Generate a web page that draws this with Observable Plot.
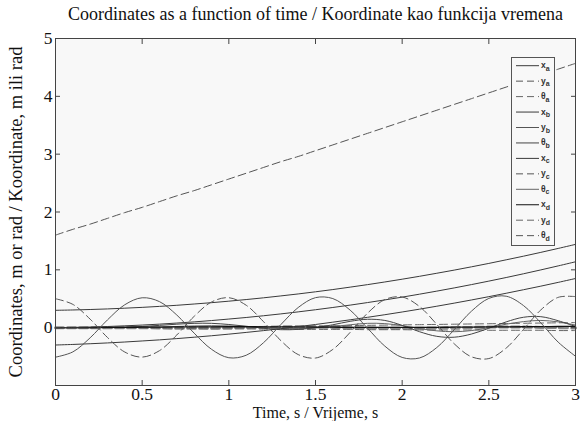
<!DOCTYPE html>
<html><head><meta charset="utf-8">
<script src="https://cdn.jsdelivr.net/npm/d3@7"></script>
<script src="https://cdn.jsdelivr.net/npm/@observablehq/plot@0.6"></script>
<style>
body{margin:0;background:#fff;}
#wrap{position:relative;width:580px;height:421px;overflow:hidden;}
#wrap svg{display:block;}
#legend{position:absolute;left:0;top:0;}
</style></head><body><div id="wrap"></div>
<script>
// ---- data ----
const time = [0,0.1,0.2,0.3,0.4,0.5,0.6,0.7,0.8,0.9,1.0,1.1,1.2,1.3,1.4,1.5,1.6,1.7,1.8,1.9,2.0,2.1,2.2,2.3,2.4,2.5,2.6,2.7,2.8,2.9,3.0];
const xa = [0.300,0.306,0.314,0.324,0.337,0.351,0.368,0.387,0.409,0.432,0.458,0.486,0.516,0.549,0.583,0.620,0.659,0.701,0.744,0.790,0.838,0.888,0.941,0.995,1.052,1.111,1.173,1.236,1.302,1.370,1.440];
const ya = [1.60,1.70,1.79,1.89,1.99,2.08,2.18,2.28,2.37,2.47,2.57,2.67,2.77,2.87,2.96,3.06,3.16,3.26,3.36,3.46,3.56,3.66,3.76,3.86,3.96,4.06,4.16,4.26,4.37,4.47,4.57];
const tha = [0,0,0,0,0,-0.005,-0.01,-0.01,-0.015,-0.02,-0.02,-0.02,-0.025,-0.025,-0.03,-0.03,-0.03,-0.03,-0.035,-0.035,-0.035,-0.04,-0.04,-0.04,-0.04,-0.045,-0.045,-0.045,-0.045,-0.05,-0.05];
const xb = [0,0.005,0.011,0.020,0.032,0.045,0.061,0.080,0.100,0.123,0.149,0.176,0.206,0.238,0.273,0.310,0.349,0.390,0.434,0.480,0.528,0.579,0.632,0.687,0.745,0.805,0.867,0.932,0.999,1.068,1.139];
const yb = [-0.510,-0.419,-0.175,0.135,0.397,0.517,0.450,0.218,-0.095,-0.374,-0.520,-0.477,-0.260,0.053,0.348,0.519,0.503,0.303,-0.009,-0.319,-0.515,-0.524,-0.343,-0.036,0.286,0.506,0.544,0.382,0.083,-0.250,-0.494];
const thb = [0,0,0,0.005,0.01,0.02,0.04,0.06,0.075,0.075,0.055,0.025,-0.01,-0.035,-0.03,0,0.05,0.11,0.145,0.125,0.04,-0.07,-0.15,-0.165,-0.11,-0.01,0.1,0.18,0.19,0.12,0.02];
const xc = [-0.300,-0.290,-0.278,-0.264,-0.248,-0.230,-0.211,-0.189,-0.165,-0.140,-0.112,-0.082,-0.051,-0.018,0.018,0.055,0.095,0.136,0.179,0.224,0.271,0.320,0.371,0.424,0.479,0.536,0.595,0.656,0.718,0.783,0.850];
const yc = [0.500,0.403,0.147,-0.170,-0.422,-0.509,-0.397,-0.126,0.196,0.444,0.518,0.388,0.104,-0.223,-0.465,-0.525,-0.376,-0.081,0.250,0.486,0.530,0.366,0.056,-0.278,-0.504,-0.534,-0.353,-0.031,0.307,0.524,0.537];
const thc = [0,0,0,0,0,0.005,0.01,0.02,0.03,0.035,0.03,0.02,0.005,-0.01,-0.015,-0.005,0.02,0.05,0.075,0.07,0.035,-0.015,-0.055,-0.07,-0.05,0,0.06,0.105,0.125,0.1,0.045];
const xd = [0,0,0.002,0.004,0.006,0.008,0.01,0.012,0.014,0.015,0.016,0.016,0.015,0.014,0.012,0.01,0.008,0.006,0.005,0.004,0.004,0.005,0.006,0.008,0.01,0.012,0.014,0.016,0.018,0.02,0.022];
const yd = [0,0,0,0,0.002,0.004,0.006,0.008,0.01,0.012,0.015,0.018,0.021,0.024,0.027,0.03,0.033,0.036,0.04,0.044,0.048,0.052,0.056,0.06,0.064,0.068,0.072,0.076,0.08,0.084,0.088];
const thd = [0,0,0,0,0,0,-0.005,-0.01,-0.012,-0.01,-0.005,0,0.005,0.01,0.012,0.01,0.005,0,-0.005,-0.01,-0.012,-0.01,-0.005,0,0.005,0.01,0.012,0.01,0.005,0,-0.005];

const seriesNames = ["xa","ya","tha","xb","yb","thb","xc","yc","thc","xd","yd","thd"];
const seriesSymbols = ["x","y","θ","x","y","θ","x","y","θ","x","y","θ"];
const seriesSubs = ["a","a","a","b","b","b","c","c","c","d","d","d"];
const seriesValues = [xa,ya,tha,xb,yb,thb,xc,yc,thc,xd,yd,thd];

const xTicks = [0,0.5,1,1.5,2,2.5,3];
const yTicks = [-1,0,1,2,3,4,5];
const titleText = "Coordinates as a function of time / Koordinate kao funkcija vremena";
const xLabel = "Time, s / Vrijeme, s";
const yLabel = "Coordinates, m or rad / Koordinate, m ili rad";

// ---- styles ----
const styles = {
  xa:{stroke:"#3a3a3a",w:1,dash:null},
  ya:{stroke:"#555",w:1,dash:"8,4"},
  tha:{stroke:"#666",w:1,dash:"8,4"},
  xb:{stroke:"#3a3a3a",w:1,dash:null},
  yb:{stroke:"#555",w:1,dash:null},
  thb:{stroke:"#444",w:1,dash:null},
  xc:{stroke:"#3a3a3a",w:1,dash:null},
  yc:{stroke:"#555",w:1,dash:"8,4"},
  thc:{stroke:"#666",w:1,dash:null},
  xd:{stroke:"#111",w:1.3,dash:null},
  yd:{stroke:"#666",w:1,dash:"8,4"},
  thd:{stroke:"#8a8a8a",w:3,dash:"8,4"}
};
const drawOrder = ["thd","tha","yd","thc","thb","xd","xc","xb","xa","yc","yb","ya"];

const rows = seriesNames.flatMap((n,i)=>time.map((t,j)=>({series:n,t,v:seriesValues[i][j]})));

const lineMarks = drawOrder.map(n=>{
  const s = styles[n];
  return Plot.line(rows.filter(r=>r.series===n), {
    x:"t", y:"v", stroke:s.stroke, strokeWidth:s.w,
    strokeDasharray:s.dash ?? undefined, curve:"catmull-rom"
  });
});

const FONT = "'Liberation Serif', 'Times New Roman', serif";
const chart = Plot.plot({
  width:580, height:421,
  marginLeft:55, marginRight:5, marginTop:38, marginBottom:36,
  x:{domain:[0,3], label:null},
  y:{domain:[-1,5], label:null},
  style:{fontFamily:FONT, fontSize:"18px", color:"#111", background:"transparent", overflow:"visible"},
  marks:[
    Plot.frame({fill:"#f8f8f8", stroke:null}),
    ...lineMarks,
    Plot.frame({stroke:"#444"}),
    Plot.axisX(xTicks,{anchor:"bottom", tickSize:-5, tickPadding:7, tickFormat:d=>String(d), label:null, stroke:"#444", fontSize:17.5, fontFamily:FONT}),
    Plot.axisX(xTicks,{anchor:"top", tickSize:-5, tickFormat:()=>"", label:null, stroke:"#444"}),
    Plot.axisY(yTicks,{anchor:"left", tickSize:-5, tickPadding:8, tickFormat:d=>d<0?"":String(d), label:null, stroke:"#444", fontSize:17.5, fontFamily:FONT}),
    Plot.axisY(yTicks,{anchor:"right", tickSize:-5, tickFormat:()=>"", label:null, stroke:"#444"}),
    Plot.text([titleText],{frameAnchor:"top", dy:-24, text:d=>d, fontSize:18, fontFamily:FONT, textAnchor:"middle", lineAnchor:"middle"}),
    Plot.text([yLabel],{frameAnchor:"left", dx:-39, rotate:-90, text:d=>d, fontSize:18.5, fontFamily:FONT, textAnchor:"middle", lineAnchor:"middle"}),
    Plot.text([xLabel],{frameAnchor:"bottom", dy:32.5, text:d=>d, fontSize:16, fontFamily:FONT, textAnchor:"middle", lineAnchor:"bottom"})
  ]
});
const wrap = document.getElementById("wrap");
wrap.appendChild(chart);

// ---- legend ----
const lg = d3.select(wrap).append("svg").attr("id","legend").attr("width",580).attr("height",421);
const box = {x:511, y:57, w:43, h:188};
lg.append("rect").attr("x",box.x+0.5).attr("y",box.y+0.5).attr("width",box.w).attr("height",box.h)
  .attr("fill","#f8f8f8").attr("stroke","#555");
seriesNames.forEach((n,i)=>{
  const s = styles[n];
  const yy = 65.7 + 15.45*i;
  lg.append("line").attr("x1",box.x+5).attr("x2",box.x+28).attr("y1",yy).attr("y2",yy)
    .attr("stroke", n==="thd" ? "#555" : s.stroke).attr("stroke-width",1)
    .attr("stroke-dasharray", s.dash ? "7,4" : null);
  const t = lg.append("text").attr("x",box.x+30).attr("y",yy+2.5)
    .attr("font-family","'Liberation Sans', Arial, sans-serif").attr("font-weight","bold")
    .attr("font-size","8.5px").attr("fill","#333");
  t.append("tspan").text(seriesSymbols[i]);
  t.append("tspan").attr("dy",2.5).attr("font-size","7px").text(seriesSubs[i]);
});
</script></body></html>
